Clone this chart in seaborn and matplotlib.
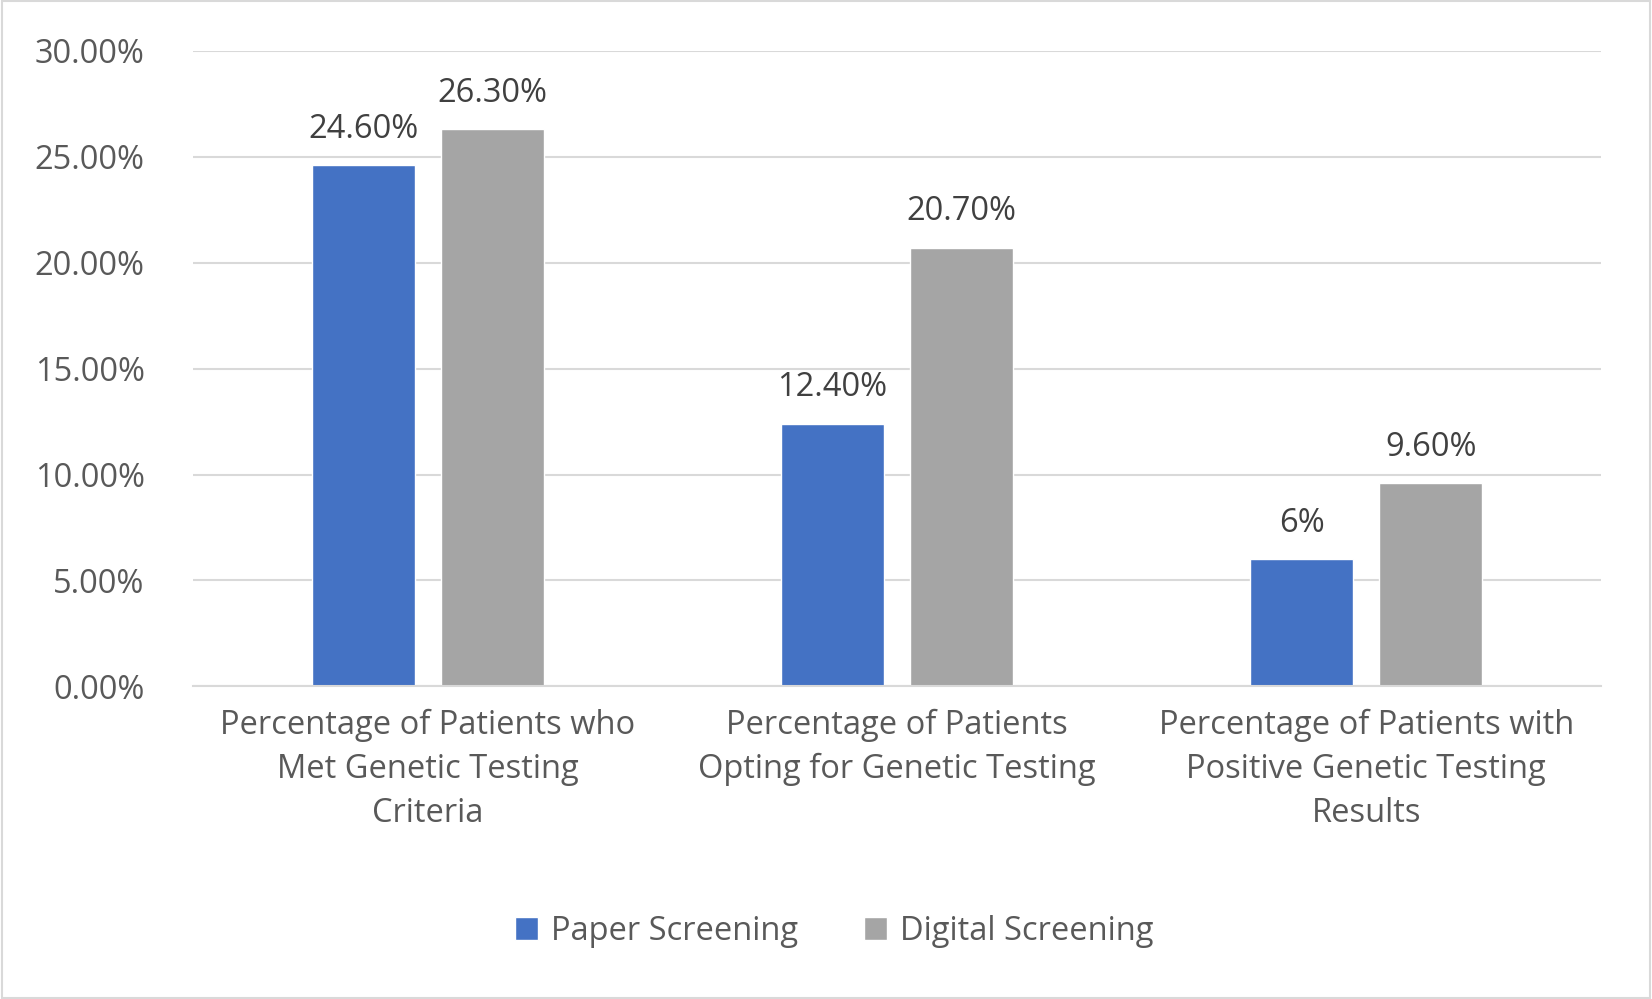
import matplotlib
matplotlib.use("Agg")
import matplotlib.pyplot as plt
import seaborn as sns
import pandas as pd

categories = ["Percentage of Patients who\nMet Genetic Testing\nCriteria",
              "Percentage of Patients\nOpting for Genetic Testing",
              "Percentage of Patients with\nPositive Genetic Testing\nResults"]
paper = [24.6, 12.4, 6.0]
digital = [26.3, 20.7, 9.6]
paper_labels = ["24.60%", "12.40%", "6%"]
digital_labels = ["26.30%", "20.70%", "9.60%"]
series = ["Paper Screening", "Digital Screening"]

df = pd.DataFrame({
    "cat": categories * 2,
    "val": paper + digital,
    "series": [series[0]] * 3 + [series[1]] * 3,
})

sns.set_theme(style="white")
plt.rcParams['font.family'] = ['Open Sans', 'DejaVu Sans']
FS = 23.5
fig = plt.figure(figsize=(16.52, 9.99), dpi=100)
ax = fig.add_axes([0.117, 0.313, 0.852, 0.636])
sns.barplot(data=df, x="cat", y="val", hue="series", ax=ax,
            palette=["#4472C4", "#A5A5A5"], width=0.55, gap=0.2,
            saturation=1, legend=True)
for cont, labs in zip(ax.containers, [paper_labels, digital_labels]):
    ax.bar_label(cont, labels=labs, padding=14, fontsize=FS, color="#404040")
ax.set_ylim(0, 30)
ax.set_yticks(range(0, 31, 5))
ax.set_yticklabels([f"{v:.2f}%" for v in range(0, 31, 5)], fontsize=FS, color="#595959")
ax.tick_params(axis="x", labelsize=FS, labelcolor="#595959", pad=16, length=0)
for t in ax.get_xticklabels():
    t.set_linespacing(1.45)
ax.tick_params(axis="y", length=0, pad=35)
ax.grid(axis="y", color="#D9D9D9", linewidth=1.5)
ax.set_axisbelow(True)
for s in ["top", "right", "left"]:
    ax.spines[s].set_visible(False)
ax.spines["bottom"].set_color("#D9D9D9")
ax.spines["bottom"].set_linewidth(1.5)
ax.set_xlabel("")
ax.set_ylabel("")
ax.legend_.remove()
h, l = ax.get_legend_handles_labels()
fig.legend(h, l, loc="center", bbox_to_anchor=(0.505, 0.068), ncol=2, frameon=False,
           fontsize=FS, labelcolor="#595959", handlelength=0.7, handleheight=0.7,
           columnspacing=2.0, handletextpad=0.4)
fig.patches.append(plt.Rectangle((0.001, 0.001), 0.998, 0.998, transform=fig.transFigure,
                                 fill=False, edgecolor="#D9D9D9", linewidth=1.5))
fig.savefig("out.png", dpi=100, facecolor="white")
